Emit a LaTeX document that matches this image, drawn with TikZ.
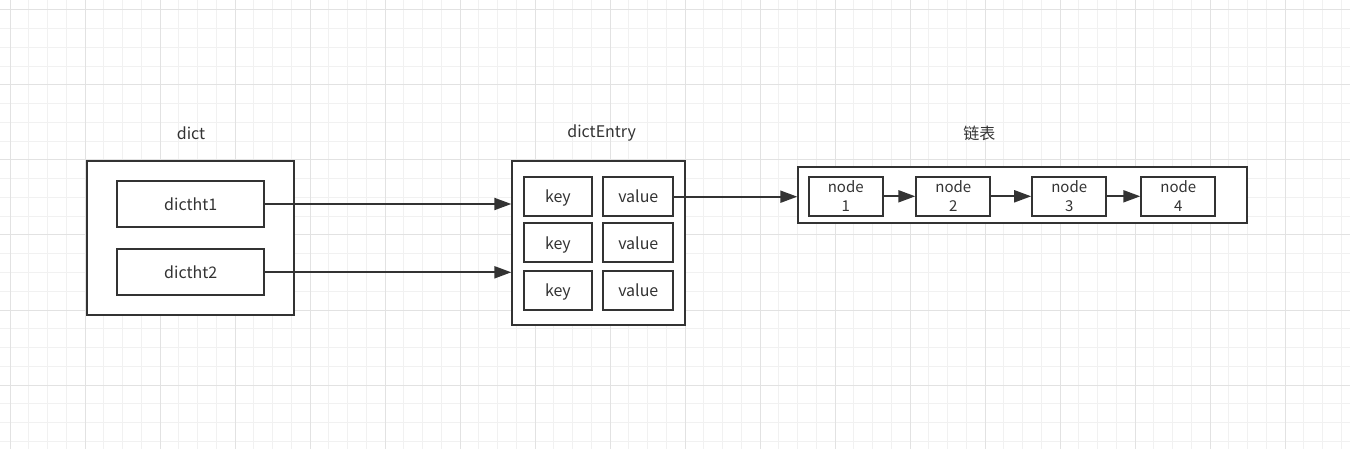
\documentclass[tikz,border=0pt]{standalone}
\usepackage{fontspec}
\setmainfont{Noto Sans CJK SC}
\usetikzlibrary{arrows.meta}

\definecolor{ink}{HTML}{333333}
\definecolor{gridlo}{HTML}{F1F1F1}
\definecolor{gridhi}{HTML}{E2E2E2}

\begin{document}
\begin{tikzpicture}[
    x=1pt, y=-1pt,
    box/.style={draw=ink, line width=2pt, fill=white, text=ink, inner sep=0pt,
      font=\fontsize{16}{19}\selectfont},
    cell/.style={box, minimum height=39pt, text height=13pt, text depth=0.5pt},
    lnode/.style={box, minimum width=74pt, minimum height=39pt, align=center,
      font=\fontsize{15}{19}\selectfont},
    arrow/.style={-{Triangle[length=17pt,width=12pt]}, line width=2pt, ink},
    lab/.style={text=ink, font=\fontsize{16}{19}\selectfont}
  ]
  \useasboundingbox (0,0) rectangle (1350,449);
  \fill[white] (0,0) rectangle (1350,449);

  % grid
  \foreach \i in {0,...,72} {
    \pgfmathsetmacro{\gx}{10+18.75*(\i-1)}
    \draw[gridlo, line width=1pt] (\gx,0) -- (\gx,449);
  }
  \foreach \i in {0,...,24} {
    \pgfmathsetmacro{\gy}{10+18.75*(\i-1)}
    \draw[gridlo, line width=1pt] (0,\gy) -- (1350,\gy);
  }
  \foreach \k in {0,...,17}
    \draw[gridhi, line width=1pt] (10+75*\k,0) -- (10+75*\k,449);
  \foreach \k in {0,...,5}
    \draw[gridhi, line width=1pt] (0,10+75*\k) -- (1350,10+75*\k);

  % dict
  \node[lab] (dictlab) at (191,133) {dict};
  \node[box, minimum width=207pt, minimum height=154pt] (dict) at (190.5,237.7) {};
  \node[cell, minimum width=147pt, minimum height=46pt] (ht1) at (190.7,204) {dictht1};
  \node[cell, minimum width=147pt, minimum height=46pt] (ht2) at (190.7,272.3) {dictht2};

  % dictEntry
  \node[lab] (entrylab) at (601.7,133) {dictEntry};
  \node[box, minimum width=172.7pt, minimum height=164.3pt] (entry) at (598.7,242.8) {};
  \foreach \r/\y in {1/196.7, 2/243, 3/290.5} {
    \node[cell, minimum width=67.7pt] (k\r) at (557.9,\y) {key};
    \node[cell, minimum width=70pt] (v\r) at (638.3,\y) {value};
  }

  % linked list
  \node[lab] (listlab) at (979.3,133) {链表};
  \node[box, minimum width=448.4pt, minimum height=56pt] (list) at (1022.5,195.3) {};
  \foreach \n/\x in {1/845.7, 2/953.3, 3/1069.2, 4/1178.3}
    \node[lnode] (n\n) at (\x,196.3) {node\\\n};

  \draw[arrow] (ht1.east) -- (ht1.east -| entry.west);
  \draw[arrow] (ht2.east) -- (ht2.east -| entry.west);
  \draw[arrow] (v1.east) -- (v1.east -| list.west);
  \foreach \a/\b in {n1/n2, n2/n3, n3/n4}
    \draw[arrow] (\a) -- (\b);
\end{tikzpicture}
\end{document}
